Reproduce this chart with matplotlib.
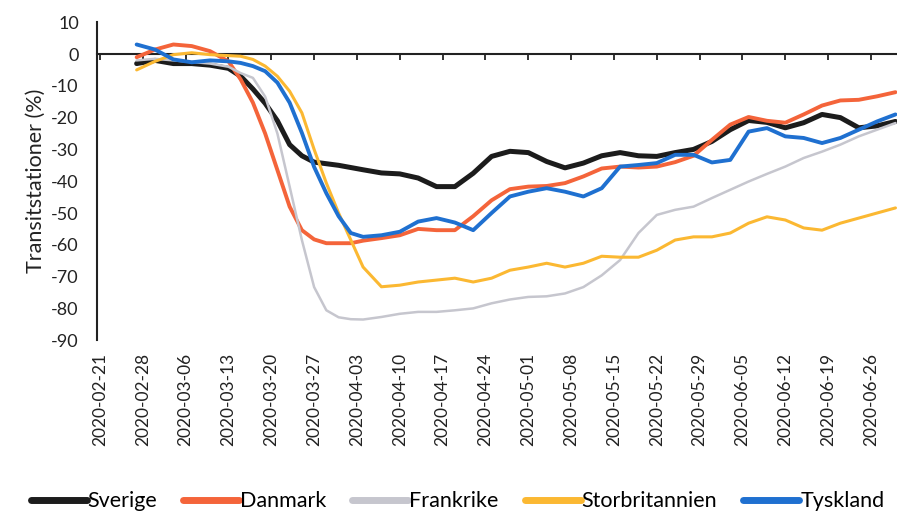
import pandas as pd
import matplotlib
matplotlib.use('Agg')
import matplotlib.pyplot as plt
import matplotlib.dates as mdates
from matplotlib.lines import Line2D

plt.rcParams['font.family'] = ['Lato', 'DejaVu Sans']
plt.rcParams['axes.unicode_minus'] = False

# Data (change vs baseline, %)
dates = ['2020-02-27', '2020-03-01', '2020-03-04', '2020-03-07', '2020-03-10', '2020-03-13',
         '2020-03-15', '2020-03-17', '2020-03-19', '2020-03-21', '2020-03-23', '2020-03-25',
         '2020-03-27', '2020-03-29', '2020-03-31', '2020-04-02', '2020-04-04', '2020-04-07',
         '2020-04-10', '2020-04-13', '2020-04-16', '2020-04-19', '2020-04-22', '2020-04-25',
         '2020-04-28', '2020-05-01', '2020-05-04', '2020-05-07', '2020-05-10', '2020-05-13',
         '2020-05-16', '2020-05-19', '2020-05-22', '2020-05-25', '2020-05-28', '2020-05-31',
         '2020-06-03', '2020-06-06', '2020-06-09', '2020-06-12', '2020-06-15', '2020-06-18',
         '2020-06-21', '2020-06-24', '2020-06-27', '2020-06-30']

sverige = [-3, -2, -3, -3, -3.5, -4.5, -7, -11, -15.5, -21, -28.5, -32, -34, -34.5, -35,
           -35.7, -36.4, -37.4, -37.7, -39, -41.7, -41.7, -37.5, -32.2, -30.6, -31, -33.8,
           -35.8, -34.3, -32, -31, -32, -32.2, -31, -30, -27.5, -23.8, -20.9, -21.5, -23.2,
           -21.6, -19, -20, -23.2, -22.6, -21.2]
danmark = [-1, 1.4, 3, 2.5, 0.9, -2.3, -8, -15.3, -25, -36.5, -48, -55.4, -58.3, -59.5,
           -59.5, -59.5, -58.7, -57.9, -57, -55, -55.4, -55.4, -51, -46, -42.5, -41.7, -41.5,
           -40.6, -38.5, -36, -35.4, -35.7, -35.4, -34, -32, -27, -22.2, -19.8, -21, -21.6,
           -19, -16.2, -14.6, -14.4, -13.3, -12]
frankrike = [-2, -1.5, -2, -2.5, -3, -4, -6, -7.5, -13.4, -25, -41.7, -58.5, -73.3, -80.6,
             -82.8, -83.4, -83.5, -82.7, -81.7, -81.1, -81.1, -80.6, -80, -78.4, -77.2, -76.4,
             -76.2, -75.3, -73.3, -69.6, -64.8, -56.3, -50.6, -49, -48, -45.3, -42.7, -40.1,
             -37.7, -35.4, -32.7, -30.7, -28.5, -25.9, -23.8, -21.7]
storbritannien = [-5, -2.3, -0.2, 0.4, -0.2, -0.5, -0.7, -1.7, -3.8, -7, -11.7, -18.5, -30,
                  -40.6, -50, -58.5, -67, -73.2, -72.7, -71.7, -71.1, -70.5, -71.7, -70.5,
                  -68, -67, -65.8, -67, -65.8, -63.6, -63.9, -63.9, -61.7, -58.5, -57.5,
                  -57.5, -56.3, -53.2, -51.2, -52.2, -54.7, -55.4, -53.2, -51.6, -50, -48.4]
tyskland = [3, 1.4, -1.7, -2.6, -2, -2.3, -2.8, -3.8, -5.4, -9, -15.3, -24.8, -35.5, -43.8,
            -51, -56.3, -57.5, -57, -55.9, -52.7, -51.6, -53, -55.4, -50, -44.8, -43.3, -42.2,
            -43.3, -44.8, -42.2, -35.4, -34.9, -34.3, -31.7, -31.7, -34.1, -33.3, -24.4,
            -23.3, -25.9, -26.4, -28, -26.4, -23.8, -21.2, -19]

labels = ['Sverige', 'Danmark', 'Frankrike', 'Storbritannien', 'Tyskland']
colors = ['#1c1c1c', '#f4643a', '#c6c6ce', '#fbb832', '#1f70d0']
widths = [3.6, 2.8, 1.8, 2.2, 2.8]

x = pd.to_datetime(dates)
series = [sverige, danmark, frankrike, storbritannien, tyskland]

fig = plt.figure(figsize=(8.97, 5.17), dpi=100)
ax = fig.add_axes([0.108, 0.342, 0.892, 0.615])

for vals, c, lw in zip(series, colors, widths):
    ax.plot(x, vals, color=c, lw=lw, solid_capstyle='round', solid_joinstyle='round')

ax.set_ylim(-90, 10)
ax.set_yticks(range(-90, 11, 10))
ax.set_xlim(pd.Timestamp('2020-02-20 12:00'), pd.Timestamp('2020-06-30 06:00'))

ticks = pd.date_range('2020-02-21', '2020-06-26', freq='7D')
ax.set_xticks(ticks)
ax.xaxis.set_major_formatter(mdates.DateFormatter('%Y-%m-%d'))
ax.tick_params(axis='x', length=0, rotation=90, labelsize=12.5, pad=9, colors='#222222')
ax.tick_params(axis='y', length=0, labelsize=13, pad=13, colors='#222222')

for s in ['top', 'right', 'bottom']:
    ax.spines[s].set_visible(False)
ax.spines['left'].set_linewidth(1.5)
ax.spines['left'].set_color('#222222')

# x axis line at zero with tick marks pointing down
sec = ax.secondary_xaxis(0.9)
sec.set_alignment('bottom')
sec.set_xticks(ticks)
sec.tick_params(axis='x', direction='out', length=4, width=1.3, color='#222222',
                labelbottom=False, labeltop=False)
sec.spines['bottom'].set_linewidth(1.5)
sec.spines['bottom'].set_color('#222222')

ax.set_ylabel('Transitstationer (%)', fontsize=15.5, color='#222222', labelpad=4)

handles = [Line2D([], [], color=c, lw=5, solid_capstyle='round') for c in colors]
fig.legend(handles, labels, loc='center', bbox_to_anchor=(0.51, 0.03), ncol=5,
           frameon=False, fontsize=15.5, handlelength=2.6, handletextpad=0.05,
           columnspacing=1.2)

fig.savefig('out.png', dpi=100)
